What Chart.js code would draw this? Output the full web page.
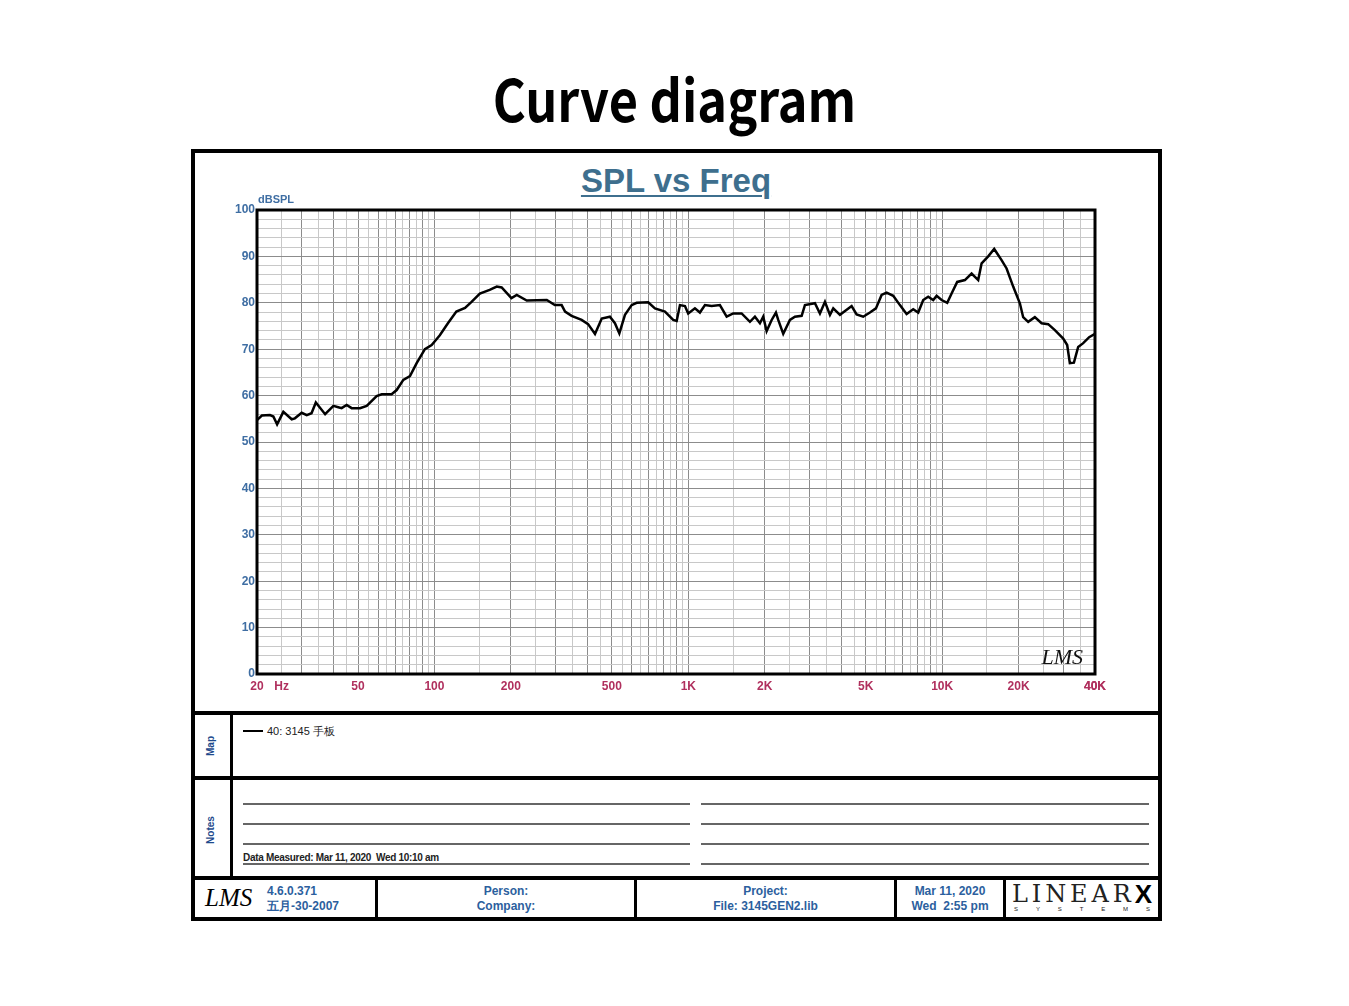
<!DOCTYPE html>
<html>
<head>
<meta charset="utf-8">
<script src="https://cdn.jsdelivr.net/npm/chart.js@4.4.0/dist/chart.umd.min.js"></script>
<style>
  body { margin: 0; width: 1349px; height: 1006px; position: relative; background: #fff; font-family: "Liberation Sans", Arial, sans-serif; overflow: hidden; }
  .abs { position: absolute; }
  .bar { position: absolute; background: #000; }
  .nline { position: absolute; height: 2px; background: #666; }
  .blue { color: #2c5f9e; font-weight: bold; font-size: 12px; line-height: 15px; text-align: center; }
  #title { left: 0; width: 1349px; top: 62px; text-align: center; font: bold 58px "Noto Sans CJK SC", "Noto Sans", sans-serif; line-height: 70px; color: #000; transform: scaleX(0.87); transform-origin: 674px 0; }
  #spl { left: 476px; width: 400px; top: 162px; text-align: center; font: bold 33px "Liberation Sans", Arial, sans-serif; color: #3e6f8e; text-decoration: underline; text-decoration-thickness: 2px; text-underline-offset: 3px; line-height: 38px; }
  #wrap { left: 195px; top: 153px; width: 963px; height: 558px; }
  .vlab { position: absolute; width: 60px; text-align: center; transform: rotate(-90deg); font: bold 10px "Liberation Sans", Arial, sans-serif; color: #1e4a8c; line-height: 12px; }
</style>
</head>
<body>
<div id="title" class="abs">Curve diagram</div>

<!-- frame -->
<div class="bar" style="left:191px;top:149px;width:971px;height:4px"></div>
<div class="bar" style="left:191px;top:917px;width:971px;height:4px"></div>
<div class="bar" style="left:191px;top:149px;width:4px;height:772px"></div>
<div class="bar" style="left:1158px;top:149px;width:4px;height:772px"></div>
<div class="bar" style="left:191px;top:711px;width:971px;height:4px"></div>
<div class="bar" style="left:191px;top:776px;width:971px;height:4px"></div>
<div class="bar" style="left:191px;top:876px;width:971px;height:4px"></div>
<div class="bar" style="left:230px;top:715px;width:3px;height:161px"></div>
<div class="bar" style="left:375px;top:880px;width:3px;height:37px"></div>
<div class="bar" style="left:634px;top:880px;width:3px;height:37px"></div>
<div class="bar" style="left:894px;top:880px;width:3px;height:37px"></div>
<div class="bar" style="left:1003px;top:880px;width:3px;height:37px"></div>

<div id="spl" class="abs">SPL vs Freq</div>
<div id="wrap" class="abs"><canvas id="myChart"></canvas></div>

<!-- map -->
<div class="vlab" style="left:181px;top:740px">Map</div>
<div class="abs" style="left:243px;top:730px;width:20px;height:2px;background:#000"></div>
<div class="abs" style="left:267px;top:724px;font-size:11px;line-height:14px;color:#222">40: 3145 手板</div>

<!-- notes -->
<div class="vlab" style="left:181px;top:824px">Notes</div>
<div class="nline" style="left:243px;top:803px;width:447px"></div>
<div class="nline" style="left:243px;top:823px;width:447px"></div>
<div class="nline" style="left:243px;top:843px;width:447px"></div>
<div class="nline" style="left:243px;top:863px;width:447px"></div>
<div class="nline" style="left:701px;top:803px;width:448px"></div>
<div class="nline" style="left:701px;top:823px;width:448px"></div>
<div class="nline" style="left:701px;top:843px;width:448px"></div>
<div class="nline" style="left:701px;top:863px;width:448px"></div>
<div class="abs" style="left:243px;top:852px;font-size:10px;line-height:12px;color:#222;font-weight:bold;letter-spacing:-0.3px">Data Measured: Mar 11, 2020&nbsp; Wed 10:10 am</div>

<!-- footer -->
<div class="abs" style="left:205px;top:882px;font:italic 25px 'Liberation Serif', serif;line-height:32px;color:#000">LMS</div>
<div class="abs blue" style="left:267px;top:884px;text-align:left">4.6.0.371<br>五月-30-2007</div>
<div class="abs blue" style="left:378px;top:884px;width:256px">Person:<br>Company:</div>
<div class="abs blue" style="left:637px;top:884px;width:257px">Project:<br>File: 3145GEN2.lib</div>
<div class="abs blue" style="left:897px;top:884px;width:106px">Mar 11, 2020<br>Wed&nbsp; 2:55 pm</div>
<div class="abs" style="left:1012px;top:881px;width:140px;height:26px;display:flex;justify-content:space-between;align-items:flex-end;font:24px 'DejaVu Serif', serif;font-weight:200;line-height:26px;color:#222">
  <span>L</span><span>I</span><span>N</span><span>E</span><span>A</span><span>R</span><span style="font:bold 26px 'Liberation Sans', Arial, sans-serif;line-height:26px;color:#000">X</span>
</div>
<div class="abs" style="left:1014px;top:905px;width:136px;display:flex;justify-content:space-between;font:6px 'Liberation Sans', Arial, sans-serif;line-height:8px;color:#222">
  <span>S</span><span>Y</span><span>S</span><span>T</span><span>E</span><span>M</span><span>S</span>
</div>

<script>
const freqs = [20, 20.9, 22.5, 23.2, 24.0, 25.4, 27.4, 28.2, 30.0, 31.4, 32.8, 34.1, 37.1, 40.0, 41.8, 43.1, 45.1, 47.2, 50.9, 54.1,
    59.2, 62.0, 67.8, 71.0, 75.4, 80.1, 85.1, 91.7, 97.5, 105, 113, 122, 132, 140, 151, 165, 176, 184, 201, 211,
    231, 277, 298, 317, 327, 347, 380, 403, 429, 456, 491, 514, 535, 563, 598, 626, 695, 739, 809, 872,
    900, 927, 970, 999, 1062, 1111, 1163, 1236, 1332, 1416, 1503, 1622, 1749, 1830, 1915, 1973, 2035, 2130, 2214, 2261,
    2366, 2514, 2630, 2796, 2880, 3154, 3300, 3454, 3614, 3724, 3957, 4399, 4603, 4887, 5194, 5483, 5774, 6042, 6416, 6817,
    7243, 7690, 8048, 8421, 8811, 9220, 9510, 9952, 10470, 10894, 11462, 12288, 13060, 13866, 14302, 15184, 16032, 17140, 17940, 19044,
    20236, 20850, 21820, 23180, 24640, 26160, 27800, 29980, 31080, 31840, 33040, 34340, 35940, 37940, 40000];
const spl = [54.7, 55.7, 55.8, 55.5, 53.8, 56.5, 54.9, 55.1, 56.3, 55.8, 56.2, 58.5, 56.0, 57.8, 57.5, 57.3, 58.0, 57.3, 57.3, 57.8,
    59.9, 60.3, 60.3, 61.2, 63.4, 64.2, 67.0, 70.0, 70.9, 73.0, 75.6, 78.1, 78.9, 80.2, 82.0, 82.8, 83.5, 83.3, 81.0, 81.7,
    80.5, 80.6, 79.5, 79.5, 78.1, 77.2, 76.3, 75.4, 73.3, 76.6, 77.0, 75.6, 73.4, 77.4, 79.5, 80.0, 80.1, 78.8, 78.1, 76.3,
    76.1, 79.5, 79.3, 77.7, 78.8, 77.9, 79.5, 79.3, 79.5, 77.0, 77.7, 77.7, 75.9, 77.0, 75.6, 77.0, 73.9, 76.3, 77.9, 76.3,
    73.3, 76.3, 77.0, 77.2, 79.5, 79.9, 77.7, 80.2, 77.4, 78.8, 77.4, 79.3, 77.5, 77.0, 77.9, 78.8, 81.7, 82.2, 81.5, 79.5,
    77.6, 78.6, 77.9, 80.6, 81.3, 80.6, 81.5, 80.6, 80.0, 82.0, 84.5, 84.9, 86.3, 84.9, 88.5, 90.0, 91.6, 89.2, 87.4, 83.5,
    79.9, 76.9, 75.9, 76.9, 75.6, 75.4, 74.1, 72.3, 70.9, 67.0, 67.1, 70.5, 71.3, 72.6, 73.3];

// axis labels
const xTickValues = [20, 25, 50, 100, 200, 500, 1000, 2000, 5000, 10000, 20000, 40000];
const xTickText = ['20', 'Hz', '50', '100', '200', '500', '1K', '2K', '5K', '10K', '20K', '40K'];
const gridSteps = [1, 1.5, 2, 2.5, 3, 3.5, 4, 4.5, 5, 5.5, 6, 6.5, 7, 7.5, 8, 8.5, 9, 9.5];
const decades = [10, 100, 1000, 10000];

let gridTicks = [];
decades.forEach(d => gridSteps.forEach(s => {
    const v = Math.round(s * d * 10) / 10;
    if (v >= 20 && v <= 40000) gridTicks.push(v);
}));
gridTicks.push(40000);

function isMajor(v) {
    const d = Math.pow(10, Math.floor(Math.log10(v) + 1e-9));
    const r = v / d;
    return Math.abs(r - Math.round(r)) < 1e-6;
}

const points = freqs.map((f, i) => ({x: f, y: spl[i]}));
const tickFont = {family: '"Liberation Sans", Arial, sans-serif', weight: 'bold', size: 12};

const extras = {
    id: 'extras',
    afterDraw(chart) {
        const {ctx, chartArea: a} = chart;
        ctx.save();
        ctx.strokeStyle = '#000';
        ctx.lineWidth = 3;
        ctx.strokeRect(a.left, a.top, a.right - a.left, a.bottom - a.top);
        ctx.fillStyle = '#3f6ea3';
        ctx.font = 'bold 11px "Liberation Sans", Arial, sans-serif';
        ctx.textBaseline = 'middle';
        ctx.fillText('dBSPL', a.left + 1, a.top - 10);
        ctx.fillStyle = '#111';
        ctx.font = 'italic 22px "Liberation Serif", serif';
        ctx.textAlign = 'right';
        ctx.textBaseline = 'alphabetic';
        ctx.fillText('LMS', a.right - 12, a.bottom - 10);
        ctx.restore();
    }
};

const config = {
    type: 'line',
    data: {
        datasets: [{
            label: '40: 3145 手板',
            data: points,
            borderColor: '#000',
            borderWidth: 2.5,
            pointRadius: 0,
            tension: 0
        }]
    },
    options: {
        responsive: true,
        maintainAspectRatio: false,
        animation: false,
        layout: {padding: {top: 57, right: 63, left: 0, bottom: 0}},
        plugins: {legend: {display: false}, tooltip: {enabled: false}},
        scales: {
            x: {
                type: 'logarithmic',
                min: 20,
                max: 40000,
                afterBuildTicks: s => { s.ticks = gridTicks.map(v => ({value: v})); },
                afterFit: s => { s.height = 37; },
                ticks: {
                    autoSkip: false,
                    maxRotation: 0,
                    padding: 5,
                    color: '#b0305e',
                    font: tickFont,
                    callback: v => {
                        const i = xTickValues.indexOf(v);
                        return i >= 0 ? xTickText[i] : '';
                    }
                },
                grid: {
                    color: c => isMajor(c.tick.value) ? '#8c8c8c' : '#c8c8c8',
                    lineWidth: 1,
                    drawTicks: false
                },
                border: {display: false}
            },
            y: {
                min: 0,
                max: 100,
                afterFit: s => { s.width = 62; },
                ticks: {
                    stepSize: 2,
                    autoSkip: false,
                    padding: 2,
                    color: '#3f6ea3',
                    font: tickFont,
                    callback: v => v % 10 === 0 ? v : ''
                },
                grid: {
                    color: c => c.tick.value % 10 === 0 ? '#8c8c8c' : '#c8c8c8',
                    lineWidth: 1,
                    drawTicks: false
                },
                border: {display: false}
            }
        }
    },
    plugins: [extras]
};

var myChart = new Chart(document.getElementById('myChart'), config);
</script>
</body>
</html>
